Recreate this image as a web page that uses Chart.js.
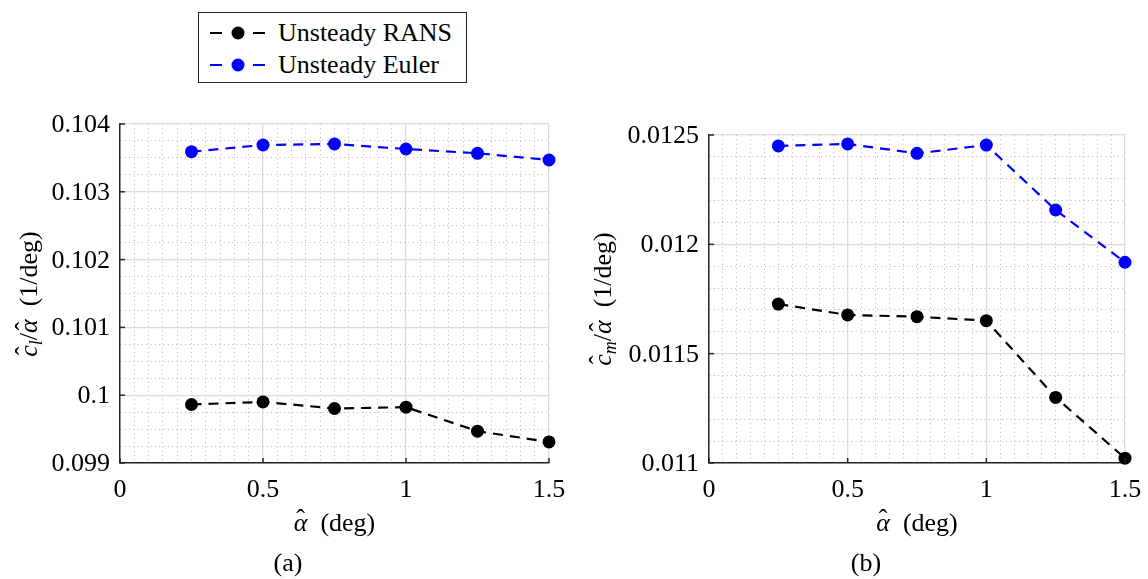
<!DOCTYPE html>
<html><head><meta charset="utf-8">
<script src="https://cdn.jsdelivr.net/npm/chart.js@4.4.1/dist/chart.umd.min.js"></script>
<style>
html,body{margin:0;padding:0;background:#fff;width:1148px;height:579px;overflow:hidden;font-family:"Liberation Serif","Times New Roman",serif;color:#000;}
.wrap{position:absolute;top:0;height:579px;}
#legend{position:absolute;left:198px;top:12px;width:269px;height:71px;border:1.3px solid #262626;box-sizing:border-box;background:#fff;z-index:5;}
.lrow{position:absolute;left:0;height:30px;width:100%;}
.lrow svg{position:absolute;left:-1px;top:0;}
.lrow span{position:absolute;left:79px;top:0;font-size:26px;line-height:30px;white-space:nowrap;}
.cap{position:absolute;top:548px;font-size:26px;line-height:30px;width:60px;text-align:center;}
.lbl{position:absolute;font-family:"Liberation Serif","Times New Roman",serif;font-size:26px;line-height:30px;height:30px;white-space:nowrap;z-index:3;}
.xl{width:100px;text-align:center;}
.yl{width:120px;text-align:right;}
.xt{width:240px;text-align:center;}
.yt{width:300px;text-align:center;transform:rotate(-90deg);}
.lbl i{font-style:italic;}
.lbl sub{font-size:18px;vertical-align:-5px;line-height:0;}
.hat{position:relative;display:inline-block;}
.hat .hc{position:absolute;left:0;right:0;top:-4px;text-align:center;font-style:normal;}
</style></head>
<body>
<div class="wrap" style="left:0;width:575px"><canvas id="c1" width="575" height="579"></canvas></div>
<div class="wrap" style="left:575px;width:573px"><canvas id="c2" width="573" height="579"></canvas></div>
<div id="legend">
  <div class="lrow" style="top:5px"><svg width="72" height="30"><line x1="12" y1="15" x2="67" y2="15" stroke="#000" stroke-width="2.2" stroke-dasharray="12,31"/><circle cx="40" cy="15" r="6.5" fill="#000"/></svg><span id="lg0"></span></div>
  <div class="lrow" style="top:37px"><svg width="72" height="30"><line x1="12" y1="15" x2="67" y2="15" stroke="#0000ff" stroke-width="2.2" stroke-dasharray="12,31"/><circle cx="40" cy="15" r="6.5" fill="#0000ff"/></svg><span id="lg1"></span></div>
</div>
<div class="cap" style="left:258px">(a)</div>
<div class="cap" style="left:836px">(b)</div>
<!-- axis text holders (positioned from the chart scales below) -->
<div class="lbl xl" id="x1_0"></div><div class="lbl xl" id="x1_1"></div><div class="lbl xl" id="x1_2"></div><div class="lbl xl" id="x1_3"></div>
<div class="lbl yl" id="y1_0"></div><div class="lbl yl" id="y1_1"></div><div class="lbl yl" id="y1_2"></div><div class="lbl yl" id="y1_3"></div><div class="lbl yl" id="y1_4"></div><div class="lbl yl" id="y1_5"></div>
<div class="lbl xt" id="xt1"><span class="hat"><i>α</i><span class="hc">ˆ</span></span>&nbsp; (deg)</div>
<div class="lbl yt" id="yt1"><span class="hat"><i>c</i><span class="hc">ˆ</span></span><sub><i>l</i></sub>/<span class="hat"><i>α</i><span class="hc">ˆ</span></span>&nbsp; (1/deg)</div>
<div class="lbl xl" id="x2_0"></div><div class="lbl xl" id="x2_1"></div><div class="lbl xl" id="x2_2"></div><div class="lbl xl" id="x2_3"></div>
<div class="lbl yl" id="y2_0"></div><div class="lbl yl" id="y2_1"></div><div class="lbl yl" id="y2_2"></div><div class="lbl yl" id="y2_3"></div>
<div class="lbl xt" id="xt2"><span class="hat"><i>α</i><span class="hc">ˆ</span></span>&nbsp; (deg)</div>
<div class="lbl yt" id="yt2"><span class="hat"><i>c</i><span class="hc">ˆ</span></span><sub><i>m</i></sub>/<span class="hat"><i>α</i><span class="hc">ˆ</span></span>&nbsp; (1/deg)</div>
<script>
// ---- data ----
const alphaHat = [0.25, 0.5, 0.75, 1.0, 1.25, 1.5];
const clRans  = [0.099863, 0.099901, 0.099804, 0.099823, 0.099469, 0.099311];
const clEuler = [0.103592, 0.103690, 0.103705, 0.103631, 0.103568, 0.103469];
const cmRans  = [0.011727, 0.011677, 0.011669, 0.011651, 0.011300, 0.011022];
const cmEuler = [0.012450, 0.012459, 0.012416, 0.012454, 0.012157, 0.011918];
const xTickLabels  = [0, 0.5, 1, 1.5];
const clTickLabels = [0.099, 0.1, 0.101, 0.102, 0.103, 0.104];
const cmTickLabels = [0.011, 0.0115, 0.012, 0.0125];
const seriesNames = ['Unsteady RANS', 'Unsteady Euler'];

document.getElementById('lg0').textContent = seriesNames[0];
document.getElementById('lg1').textContent = seriesNames[1];

const isIn = (v, list) => list.some(t => Math.abs(t - v) < 1e-9);
const fmt = v => String(Number(v.toPrecision(6)));

function pts(ys){ return alphaHat.map((x,i)=>({x:x, y:ys[i]})); }

function ds(label, ys, color){
  return {label, data: pts(ys), borderColor: color, backgroundColor: color,
    borderWidth: 2.2, borderDash: [10,7], pointRadius: 6.5, pointHoverRadius: 6.5,
    pointBorderWidth: 0, tension: 0, fill: false, clip: false};
}

const innerTicks = {
  id: 'innerTicks',
  afterDraw(chart, args, opts){
    const {ctx, chartArea:{left, bottom}, scales:{x, y}} = chart;
    ctx.save();
    ctx.strokeStyle = '#262626'; ctx.lineWidth = 1.5;
    opts.xMaj.forEach(v => { const p = x.getPixelForValue(v); ctx.beginPath(); ctx.moveTo(p, bottom); ctx.lineTo(p, bottom-5); ctx.stroke(); });
    opts.yMaj.forEach(v => { const p = y.getPixelForValue(v); ctx.beginPath(); ctx.moveTo(left, p); ctx.lineTo(left+5, p); ctx.stroke(); });
    ctx.restore();
  }
};

function place(id, left, top){ const e = document.getElementById(id); e.style.left = left + 'px'; e.style.top = top + 'px'; return e; }

// axis text as HTML, positioned through the chart's own scales
function axisText(chart, n, yMaj, yTitleX){
  const off = chart.canvas.parentNode.offsetLeft;
  const {x, y} = chart.scales;
  const ca = chart.chartArea;
  xTickLabels.forEach((v,i) => { place('x'+n+'_'+i, off + x.getPixelForValue(v) - 50, ca.bottom + 11).textContent = fmt(v); });
  yMaj.forEach((v,i) => { place('y'+n+'_'+i, off + ca.left - 10 - 120, y.getPixelForValue(v) - 15).textContent = fmt(v); });
  place('xt'+n, off + (ca.left + ca.right) / 2 - 120, ca.bottom + 45);
  place('yt'+n, off + yTitleX - 150, (ca.top + ca.bottom) / 2 - 15);
}

function makeChart(id, rans, euler, yMin, yMax, yStep, yMaj, pad, yWidth){
  return new Chart(document.getElementById(id), {
    type: 'line',
    data: { datasets: [ ds(seriesNames[0], rans, '#000000'), ds(seriesNames[1], euler, '#0000ff') ] },
    plugins: [innerTicks],
    options: {
      responsive: false, animation: false,
      layout: { padding: pad },
      plugins: { legend: {display:false}, tooltip: {enabled:false},
        innerTicks: {xMaj: xTickLabels, yMaj: yMaj} },
      scales: {
        x: {
          type: 'linear', min: 0, max: 1.5,
          afterFit: s => { s.height = 75; },
          ticks: { display: false, stepSize: 0.05, autoSkip: false, maxRotation: 0 },
          grid: { drawTicks: false,
            color: c => (c.tick && isIn(c.tick.value, xTickLabels)) ? '#dcdcdc' : '#b4b4b4',
            lineWidth: c => (c.tick && isIn(c.tick.value, xTickLabels)) ? 1.3 : 1 },
          border: { display: true, color: '#262626', width: 1.5,
            dash: c => (c.tick && !isIn(c.tick.value, xTickLabels)) ? [1,3.3] : [] }
        },
        y: {
          type: 'linear', min: yMin, max: yMax,
          afterFit: s => { s.width = yWidth; },
          ticks: { display: false, stepSize: yStep, autoSkip: false },
          grid: { drawTicks: false,
            color: c => (c.tick && isIn(c.tick.value, yMaj)) ? '#dcdcdc' : '#b4b4b4',
            lineWidth: c => (c.tick && isIn(c.tick.value, yMaj)) ? 1.3 : 1 },
          border: { display: true, color: '#262626', width: 1.5,
            dash: c => (c.tick && !isIn(c.tick.value, yMaj)) ? [1,3.3] : [] }
        }
      }
    }
  });
}

const ch1 = makeChart('c1', clRans, clEuler, 0.099, 0.104, 0.00025, clTickLabels,
  {top:124, bottom:41, left:0, right:26}, 120);
const ch2 = makeChart('c2', cmRans, cmEuler, 0.011, 0.0125, 0.0001, cmTickLabels,
  {top:135, bottom:41, left:0, right:23}, 134);
axisText(ch1, 1, clTickLabels, 29);
axisText(ch2, 2, cmTickLabels, 28);
</script>
</body></html>
